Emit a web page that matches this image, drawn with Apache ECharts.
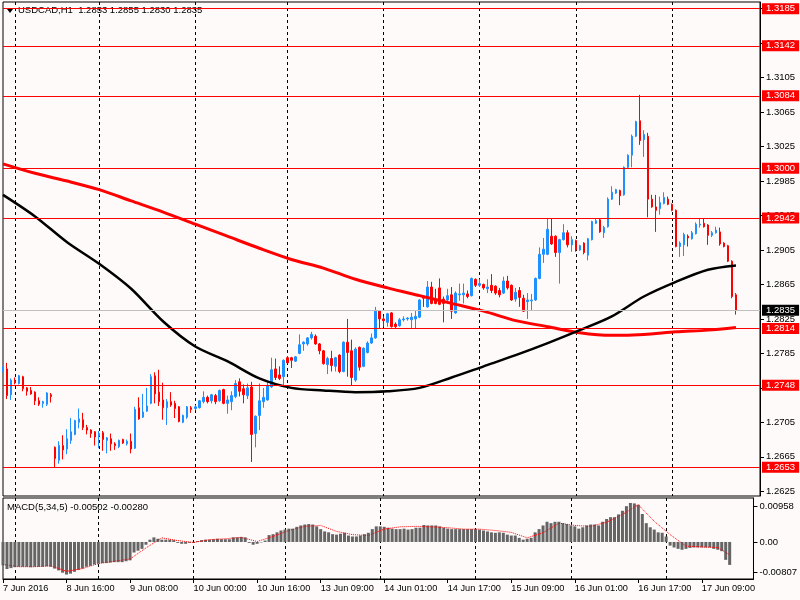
<!DOCTYPE html>
<html><head><meta charset="utf-8">
<script src="https://cdn.jsdelivr.net/npm/echarts@6/dist/echarts.min.js"></script>
<style>html,body{margin:0;padding:0;background:#fffafa}#c{width:800px;height:600px}</style>
</head><body><div id="c"></div><script>
const symbolTitle = 'USDCAD,H1  1.2853 1.2855 1.2830 1.2835';
const macdTitle = 'MACD(5,34,5) -0.00502 -0.00280';
const tickLabels = ['7 Jun 2016','8 Jun 16:00','9 Jun 08:00','10 Jun 00:00','10 Jun 16:00','13 Jun 09:00','14 Jun 01:00','14 Jun 17:00','15 Jun 09:00','16 Jun 01:00','16 Jun 17:00','17 Jun 09:00'];
const separatorBars = [3,24,48,71,95,119,143,167];
const priceTicks = [1.2625,1.2665,1.2705,1.2745,1.2785,1.2825,1.2865,1.2905,1.2945,1.2985,1.3025,1.3065,1.3105,1.3145,1.3185];
const levels = [1.3185,1.3142,1.3084,1.3000,1.2942,1.2814,1.2748,1.2653];
const lastPrice = 1.2835;
const macdScale = [0.00958, 0, -0.00807];

const open = [1.2764,1.2767,1.2737,1.2753,1.2750,1.2758,1.2745,1.2742,1.2740,1.2730,1.2727,1.2726,1.2737,1.2676,1.2661,1.2678,1.2674,1.2684,1.2691,1.2705,
1.2708,1.2699,1.2696,1.2694,1.2689,1.2693,1.2684,1.2686,1.2680,1.2677,1.2685,1.2680,1.2683,1.2675,1.2722,1.2711,1.2718,1.2727,1.2759,1.2740,
1.2731,1.2722,1.2729,1.2727,1.2723,1.2705,1.2711,1.2722,1.2721,1.2722,1.2729,1.2734,1.2730,1.2736,1.2730,1.2743,1.2727,1.2729,1.2735,1.2752,
1.2744,1.2736,1.2746,1.2692,1.2713,1.2729,1.2731,1.2746,1.2767,1.2760,1.2758,1.2780,1.2780,1.2776,1.2785,1.2796,1.2796,1.2803,1.2805,1.2796,
1.2788,1.2772,1.2779,1.2770,1.2783,1.2764,1.2798,1.2788,1.2754,1.2792,1.2770,1.2786,1.2797,1.2803,1.2834,1.2825,1.2821,1.2832,1.2819,1.2817,
1.2824,1.2825,1.2824,1.2825,1.2827,1.2850,1.2839,1.2862,1.2847,1.2861,1.2848,1.2847,1.2853,1.2832,1.2853,1.2853,1.2854,1.2852,1.2871,1.2864,
1.2865,1.2860,1.2864,1.2863,1.2858,1.2855,1.2869,1.2864,1.2848,1.2858,1.2849,1.2845,1.2846,1.2847,1.2872,1.2900,1.2900,1.2921,1.2921,1.2902,
1.2917,1.2925,1.2911,1.2916,1.2905,1.2913,1.2899,1.2917,1.2936,1.2940,1.2925,1.2932,1.2964,1.2971,1.2974,1.2969,1.3001,1.3015,1.3037,1.3055,
1.3033,1.3037,1.2964,1.2955,1.2953,1.2959,1.2964,1.2958,1.2951,1.2909,1.2911,1.2921,1.2918,1.2924,1.2934,1.2936,1.2934,1.2922,1.2925,1.2926,
1.2913,1.2910,1.2892,1.2853];
const high = [1.2770,1.2774,1.2756,1.2757,1.2760,1.2759,1.2746,1.2746,1.2741,1.2734,1.2730,1.2740,1.2739,1.2677,1.2683,1.2690,1.2697,1.2710,1.2708,1.2721,
1.2716,1.2702,1.2697,1.2695,1.2695,1.2695,1.2688,1.2692,1.2682,1.2685,1.2686,1.2685,1.2692,1.2723,1.2734,1.2738,1.2745,1.2761,1.2763,1.2766,
1.2751,1.2732,1.2740,1.2730,1.2724,1.2714,1.2724,1.2724,1.2725,1.2731,1.2741,1.2736,1.2738,1.2738,1.2743,1.2744,1.2736,1.2741,1.2754,1.2756,
1.2749,1.2750,1.2752,1.2713,1.2750,1.2745,1.2752,1.2780,1.2779,1.2770,1.2778,1.2782,1.2781,1.2782,1.2807,1.2799,1.2804,1.2810,1.2807,1.2797,
1.2789,1.2781,1.2788,1.2781,1.2784,1.2799,1.2825,1.2801,1.2792,1.2793,1.2792,1.2799,1.2808,1.2839,1.2835,1.2828,1.2832,1.2833,1.2821,1.2826,
1.2828,1.2827,1.2832,1.2835,1.2848,1.2851,1.2869,1.2868,1.2860,1.2872,1.2851,1.2860,1.2862,1.2857,1.2866,1.2866,1.2858,1.2873,1.2872,1.2871,
1.2866,1.2871,1.2877,1.2864,1.2861,1.2874,1.2875,1.2865,1.2861,1.2862,1.2853,1.2855,1.2854,1.2873,1.2908,1.2919,1.2942,1.2941,1.2922,1.2918,
1.2935,1.2928,1.2921,1.2917,1.2911,1.2914,1.2919,1.2939,1.2941,1.2941,1.2933,1.2966,1.2979,1.2976,1.2975,1.3002,1.3016,1.3039,1.3055,1.3085,
1.3044,1.3041,1.2969,1.2969,1.2967,1.2972,1.2967,1.2959,1.2952,1.2915,1.2925,1.2923,1.2927,1.2937,1.2941,1.2941,1.2935,1.2927,1.2932,1.2931,
1.2914,1.2911,1.2893,1.2855];
const low = [1.2763,1.2732,1.2731,1.2749,1.2749,1.2741,1.2736,1.2737,1.2725,1.2724,1.2722,1.2724,1.2728,1.2653,1.2657,1.2662,1.2668,1.2680,1.2690,1.2698,
1.2696,1.2691,1.2687,1.2678,1.2675,1.2672,1.2669,1.2672,1.2673,1.2675,1.2680,1.2678,1.2669,1.2674,1.2708,1.2710,1.2717,1.2726,1.2727,1.2724,
1.2708,1.2702,1.2723,1.2710,1.2705,1.2704,1.2709,1.2716,1.2719,1.2721,1.2727,1.2727,1.2727,1.2726,1.2729,1.2726,1.2715,1.2719,1.2733,1.2735,
1.2727,1.2732,1.2659,1.2676,1.2696,1.2722,1.2730,1.2745,1.2754,1.2754,1.2746,1.2773,1.2768,1.2775,1.2784,1.2788,1.2794,1.2801,1.2795,1.2784,
1.2772,1.2761,1.2764,1.2764,1.2762,1.2763,1.2758,1.2748,1.2752,1.2765,1.2769,1.2785,1.2796,1.2802,1.2814,1.2816,1.2816,1.2815,1.2814,1.2816,
1.2822,1.2823,1.2814,1.2814,1.2826,1.2839,1.2838,1.2842,1.2842,1.2841,1.2821,1.2843,1.2825,1.2831,1.2846,1.2843,1.2849,1.2851,1.2862,1.2862,
1.2859,1.2855,1.2855,1.2853,1.2850,1.2854,1.2859,1.2846,1.2845,1.2839,1.2833,1.2825,1.2835,1.2846,1.2871,1.2890,1.2899,1.2911,1.2897,1.2866,
1.2916,1.2908,1.2903,1.2903,1.2904,1.2900,1.2893,1.2916,1.2935,1.2925,1.2919,1.2931,1.2963,1.2970,1.2957,1.2968,1.3000,1.3001,1.3036,1.3027,
1.3013,1.2943,1.2954,1.2926,1.2946,1.2958,1.2957,1.2950,1.2908,1.2897,1.2898,1.2909,1.2917,1.2923,1.2931,1.2931,1.2911,1.2920,1.2924,1.2910,
1.2908,1.2891,1.2849,1.2830];
const close = [1.2768,1.2736,1.2754,1.2751,1.2759,1.2744,1.2741,1.2738,1.2730,1.2726,1.2729,1.2739,1.2735,1.2663,1.2678,1.2673,1.2686,1.2694,1.2707,1.2709,
1.2699,1.2696,1.2692,1.2688,1.2692,1.2685,1.2687,1.2680,1.2678,1.2684,1.2681,1.2683,1.2674,1.2720,1.2709,1.2717,1.2724,1.2758,1.2738,1.2729,
1.2722,1.2729,1.2725,1.2721,1.2706,1.2713,1.2723,1.2720,1.2723,1.2730,1.2734,1.2729,1.2737,1.2729,1.2742,1.2727,1.2731,1.2736,1.2750,1.2741,
1.2737,1.2745,1.2691,1.2712,1.2730,1.2734,1.2748,1.2766,1.2757,1.2756,1.2777,1.2774,1.2777,1.2781,1.2795,1.2798,1.2803,1.2807,1.2796,1.2788,
1.2773,1.2779,1.2771,1.2780,1.2764,1.2798,1.2786,1.2757,1.2790,1.2769,1.2791,1.2797,1.2803,1.2835,1.2825,1.2823,1.2831,1.2816,1.2816,1.2824,
1.2825,1.2826,1.2827,1.2828,1.2847,1.2849,1.2862,1.2843,1.2843,1.2842,1.2843,1.2852,1.2834,1.2855,1.2854,1.2855,1.2851,1.2872,1.2864,1.2866,
1.2861,1.2862,1.2858,1.2855,1.2853,1.2869,1.2861,1.2847,1.2856,1.2850,1.2834,1.2847,1.2847,1.2872,1.2900,1.2906,1.2929,1.2912,1.2902,1.2917,
1.2925,1.2911,1.2917,1.2905,1.2910,1.2902,1.2918,1.2938,1.2939,1.2926,1.2931,1.2964,1.2972,1.2975,1.2968,1.3001,1.3015,1.3037,1.3054,1.3032,
1.3039,1.2964,1.2955,1.2951,1.2960,1.2966,1.2958,1.2951,1.2909,1.2913,1.2923,1.2919,1.2925,1.2935,1.2935,1.2932,1.2922,1.2925,1.2928,1.2912,
1.2909,1.2892,1.2851,1.2835];

const maBars = [0,8,16,24,32,40,48,56,64,72,80,88,96,104,112,120,128,136,144,152,160,168,176,183];
const redMA = [1.3005,1.2994,1.2985,1.2975,1.2962,1.2949,1.2935,1.2921,1.2907,1.2894,1.2884,1.2871,1.2861,1.2852,1.2843,1.2834,1.2823,1.2816,1.2809,1.2806,1.2807,1.2810,1.2812,1.2815];
const blackMA = [1.2969,1.2944,1.2914,1.2889,1.2860,1.2822,1.2793,1.2776,1.2756,1.2745,1.2742,1.2740,1.2741,1.2745,1.2757,1.2770,1.2783,1.2797,1.2812,1.2828,1.2851,1.2868,1.2882,1.2887];

const macdHist = [-0.0051,-0.0059,-0.0057,-0.0055,-0.0054,-0.0054,-0.0054,-0.0055,-0.0054,-0.0054,-0.0054,-0.0053,-0.0054,-0.0058,-0.0062,-0.0067,-0.0071,-0.0069,-0.0065,-0.0061,
-0.0058,-0.0054,-0.0052,-0.0049,-0.0047,-0.0046,-0.0046,-0.0045,-0.0044,-0.0044,-0.0044,-0.0042,-0.0040,-0.0023,-0.0019,-0.0015,-0.0006,0.0005,0.0010,0.0007,
0.0005,0.0005,0.0005,0.0004,-0.0002,-0.0004,-0.0004,-0.0002,-0.0002,0.0002,0.0004,0.0005,0.0005,0.0006,0.0007,0.0006,0.0006,0.0006,0.0010,0.0010,
0.0011,0.0010,-0.0002,-0.0006,-0.0004,-0.0001,0.0003,0.0015,0.0017,0.0021,0.0025,0.0027,0.0029,0.0029,0.0033,0.0036,0.0038,0.0039,0.0038,0.0034,
0.0028,0.0023,0.0021,0.0017,0.0016,0.0018,0.0020,0.0014,0.0012,0.0012,0.0014,0.0017,0.0020,0.0028,0.0034,0.0034,0.0033,0.0031,0.0029,0.0028,
0.0028,0.0029,0.0027,0.0028,0.0031,0.0031,0.0037,0.0036,0.0036,0.0036,0.0034,0.0031,0.0029,0.0028,0.0028,0.0028,0.0028,0.0028,0.0028,0.0028,
0.0027,0.0025,0.0023,0.0021,0.0020,0.0021,0.0020,0.0016,0.0014,0.0014,0.0009,0.0005,0.0007,0.0009,0.0021,0.0028,0.0036,0.0044,0.0041,0.0044,
0.0044,0.0041,0.0039,0.0036,0.0034,0.0029,0.0032,0.0036,0.0038,0.0038,0.0036,0.0044,0.0050,0.0054,0.0054,0.0060,0.0068,0.0078,0.0085,0.0084,
0.0081,0.0061,0.0041,0.0032,0.0027,0.0021,0.0020,0.0012,-0.0008,-0.0012,-0.0015,-0.0017,-0.0015,-0.0013,-0.0012,-0.0012,-0.0012,-0.0012,-0.0012,-0.0015,
-0.0017,-0.0020,-0.0039,-0.0050];
const sigBars = [0,4,8,12,16,20,24,28,32,36,40,44,48,52,56,60,64,68,72,76,80,84,88,92,96,100,104,108,112,116,120,124,128,132,136,140,144,148,152,156,160,164,168,172,176,180,183];
const sigVal = [-0.0049,-0.0054,-0.0054,-0.0052,-0.0064,-0.0058,-0.0047,-0.0042,-0.0037,-0.0013,0.0009,0.0003,-0.0001,0.0005,0.0007,0.0010,0.0001,0.0012,0.0025,0.0034,0.0036,0.0023,0.0016,0.0014,0.0028,0.0033,0.0034,0.0033,0.0031,0.0028,0.0028,0.0025,0.0021,0.0009,0.0020,0.0041,0.0036,0.0034,0.0043,0.0060,0.0081,0.0045,0.0016,-0.0009,-0.0011,-0.0012,-0.0028];

const N = 190;
const cats = Array.from({length: N}, (_, i) => String(i));
const candleData = open.map((o, i) => [o, close[i], low[i], high[i]]);
const isSep = (i) => separatorBars.indexOf(i) >= 0;
const font = 'Liberation Sans';
const macdLabelPos = [0.00784, 0, -0.00661];

const chart = echarts.init(document.getElementById('c'), null, {renderer: 'canvas', width: 800, height: 600});
const sepLine = {show: true, interval: (i) => isSep(i), lineStyle: {color: '#000', type: [3, 3], width: 1}};
chart.setOption({
  animation: false,
  backgroundColor: '#fffafa',
  textStyle: {fontFamily: font},
  grid: [
    {left: 3, right: 40, top: 2, height: 494, show: true, borderColor: '#000', borderWidth: 1},
    {left: 3, right: 40, top: 498, height: 81, show: true, borderColor: '#000', borderWidth: 1}
  ],
  xAxis: [
    {type: 'category', gridIndex: 0, data: cats, boundaryGap: false,
     axisLine: {show: false}, axisTick: {show: false}, axisLabel: {show: false}, splitLine: sepLine},
    {type: 'category', gridIndex: 1, data: cats, boundaryGap: false,
     axisLine: {show: true, onZero: false, lineStyle: {color: '#000'}},
     axisTick: {show: true, interval: 15, length: 4, lineStyle: {color: '#000'}},
     axisLabel: {interval: 15, align: 'left', margin: 5, fontSize: 9.2, color: '#000',
       formatter: (v, i) => tickLabels[Math.round(i / 16)] || ''},
     splitLine: sepLine}
  ],
  yAxis: [
    {type: 'value', gridIndex: 0, position: 'right', min: 1.26195, max: 1.31928,
     axisLine: {show: true, lineStyle: {color: '#000'}},
     axisTick: {show: true, length: 4, customValues: priceTicks, lineStyle: {color: '#000'}},
     axisLabel: {customValues: priceTicks, formatter: (v) => v.toFixed(4), fontSize: 9.5, color: '#000', margin: 6},
     splitLine: {show: false}},
    {type: 'value', gridIndex: 1, position: 'right', min: -0.00807, max: 0.00958,
     axisLine: {show: true, lineStyle: {color: '#000'}},
     axisTick: {show: true, length: 4, customValues: macdLabelPos, lineStyle: {color: '#000'}},
     axisLabel: {customValues: macdLabelPos, fontSize: 9.5, color: '#000', margin: 6,
       formatter: (v) => v > 0.001 ? macdScale[0].toFixed(5) : (v < -0.001 ? macdScale[2].toFixed(5) : '0.00')},
     splitLine: {show: false}}
  ],
  series: [
    {type: 'candlestick', xAxisIndex: 0, yAxisIndex: 0, data: candleData, barWidth: 2,
     itemStyle: {color: '#1e90ff', color0: '#ff0000', borderColor: '#1e90ff', borderColor0: '#ff0000', borderWidth: 1},
     markLine: {silent: true, symbol: ['none', 'none'], animation: false, precision: 4,
       lineStyle: {color: '#ff0000', type: 'solid', width: 1},
       label: {show: true, position: 'end', distance: 2, formatter: (p) => Number(p.value).toFixed(4),
         color: '#fff', backgroundColor: '#ff0000', padding: [1, 4, 0, 4], fontSize: 9.5, fontFamily: font},
       emphasis: {disabled: true},
       data: levels.map((v) => ({yAxis: v})).concat([
         {yAxis: lastPrice, lineStyle: {color: '#c0c0c0'}, label: {backgroundColor: '#000'}}])}},
    {type: 'line', xAxisIndex: 0, yAxisIndex: 0, data: maBars.map((b, k) => [b, redMA[k]]),
     showSymbol: false, smooth: 0.3, lineStyle: {color: '#ff0000', width: 3}, z: 3},
    {type: 'line', xAxisIndex: 0, yAxisIndex: 0, data: maBars.map((b, k) => [b, blackMA[k]]),
     showSymbol: false, smooth: 0.3, lineStyle: {color: '#000', width: 2.5}, z: 3},
    {type: 'bar', xAxisIndex: 1, yAxisIndex: 1, data: macdHist, barWidth: 3,
     itemStyle: {color: '#656565'}},
    {type: 'line', xAxisIndex: 1, yAxisIndex: 1, data: sigBars.map((b, k) => [b, sigVal[k]]),
     showSymbol: false, lineStyle: {color: '#ff0000', width: 1, type: 'dotted'}, z: 3}
  ],
  graphic: [
    {type: 'polygon', shape: {points: [[7, 9], [13, 9], [10, 13]]}, style: {fill: '#000'}},
    {type: 'text', left: 18, top: 5, style: {text: symbolTitle, fill: '#000', font: '9.5px "Liberation Sans"'}},
    {type: 'text', left: 7, top: 502, style: {text: macdTitle, fill: '#000', font: '9.5px "Liberation Sans"'}}
  ]
});
</script></body></html>
